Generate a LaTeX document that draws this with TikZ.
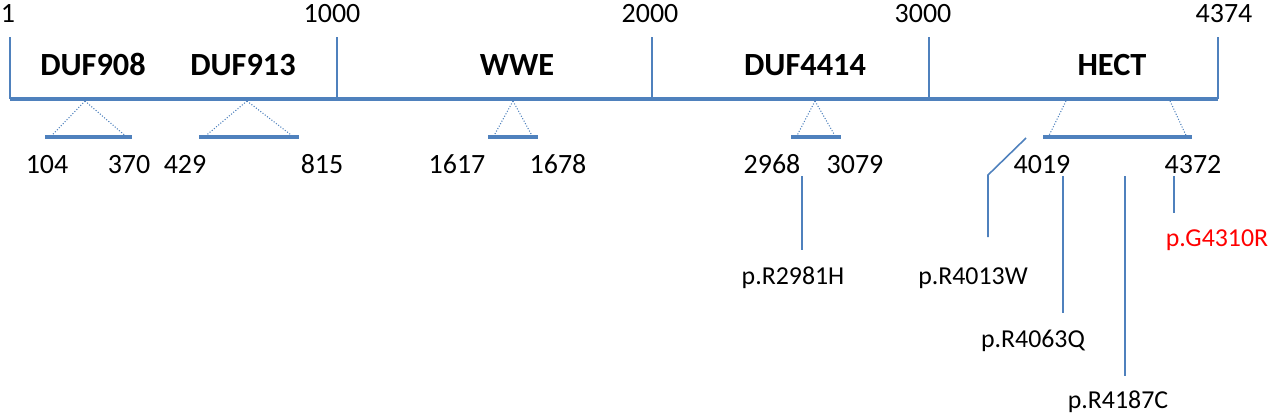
\documentclass[tikz,border=0pt]{standalone}
\usepackage{fontspec}
\setmainfont{Carlito}
\definecolor{protblue}{RGB}{79,129,189}
\definecolor{mutred}{RGB}{255,0,0}
\begin{document}
\begin{tikzpicture}[x=0.02cm,y=-0.02cm,
		axis/.style={color=protblue,line width=2.3pt},
		tickline/.style={color=protblue,line width=0.9pt},
		span/.style={color=protblue,line width=2.8pt},
		zoomline/.style={color=protblue,densely dotted,line width=0.6pt},
		pin/.style={color=protblue,line width=0.9pt},
		poslabel/.style={anchor=base,inner sep=0pt,font=\fontsize{15.9}{18}\selectfont},
		domlabel/.style={anchor=base,inner sep=0pt,font=\bfseries\fontsize{18.4}{22}\selectfont},
		mutlabel/.style={anchor=base,inner sep=0pt,font=\fontsize{14.7}{17}\selectfont}]
		\useasboundingbox (0,0) rectangle (1280,417);
		% protein axis with ticks
		\coordinate (start) at (10,99);
		\coordinate (end) at (1218,99);
		\draw[axis] (start) -- (end);
		\foreach \x/\lx/\lab/\n in {10/8/1/a,337/332/1000/b,652/650/2000/c,929/923/3000/d,1218/1224/4374/e}{
			\node[poslabel] (top\n) at (\lx,22) {\lab};
			\coordinate (tk\n) at (\x,37);
			\draw[tickline] (tk\n) -- (\x,99);
		}
		% domain names
		\node[domlabel] (duf908) at (93,75) {DUF908};
		\node[domlabel] (duf913) at (243,75) {DUF913};
		\node[domlabel] (wwe) at (517,75) {WWE};
		\node[domlabel] (duf4414) at (805,75) {DUF4414};
		\node[domlabel] (hect) at (1112,75) {HECT};
		% domain spans
		\foreach \a/\l/\r/\n in {85/45/132/a,247/199/299/b,513/488/538/c,815/791/841/d}{
			\coordinate (apex\n) at (\a,101);
			\coordinate (sl\n) at (\l,137);
			\coordinate (sr\n) at (\r,137);
			\draw[zoomline] (apex\n) -- ([xshift=3]sl\n);
			\draw[zoomline] (apex\n) -- ([xshift=-3]sr\n);
			\draw[span] (sl\n) -- (sr\n);
		}
		\coordinate (apexel) at (1066,101);
		\coordinate (apexer) at (1170,101);
		\coordinate (sle) at (1043,137);
		\coordinate (sre) at (1192,137);
		\draw[zoomline] (apexel) -- ([xshift=3]sle);
		\draw[zoomline] (apexer) -- ([xshift=-3]sre);
		\draw[span] (sle) -- (sre);
		% span limits
		\foreach \x/\lab in {47/104,129/370,185/429,322/815,457/1617,558/1678,772/2968,855/3079,1042/4019,1193/4372}
			\node[poslabel] at (\x,173) {\lab};
		% variants
		\node[mutlabel] (r2981h) at (793,284) {p.R2981H};
		\node[mutlabel] (r4013w) at (973,284) {p.R4013W};
		\node[mutlabel] (r4063q) at (1033,347) {p.R4063Q};
		\node[mutlabel] (r4187c) at (1118,408) {p.R4187C};
		\node[mutlabel,text=mutred] (g4310r) at (1217,246) {p.G4310R};
		\coordinate (m1a) at (802,176);
		\coordinate (m1b) at (802,250);
		\draw[pin] (m1a) -- (m1b);
		\coordinate (m2a) at (1026,138);
		\coordinate (m2b) at (988,175);
		\coordinate (m2c) at (988,237);
		\draw[pin] (m2a) -- (m2b) -- (m2c);
		\coordinate (m3a) at (1063,176);
		\coordinate (m3b) at (1063,313);
		\draw[pin] (m3a) -- (m3b);
		\coordinate (m4a) at (1125,176);
		\coordinate (m4b) at (1125,376);
		\draw[pin] (m4a) -- (m4b);
		\coordinate (m5a) at (1174,176);
		\coordinate (m5b) at (1174,213);
		\draw[pin] (m5a) -- (m5b);
	\end{tikzpicture}
\end{document}
